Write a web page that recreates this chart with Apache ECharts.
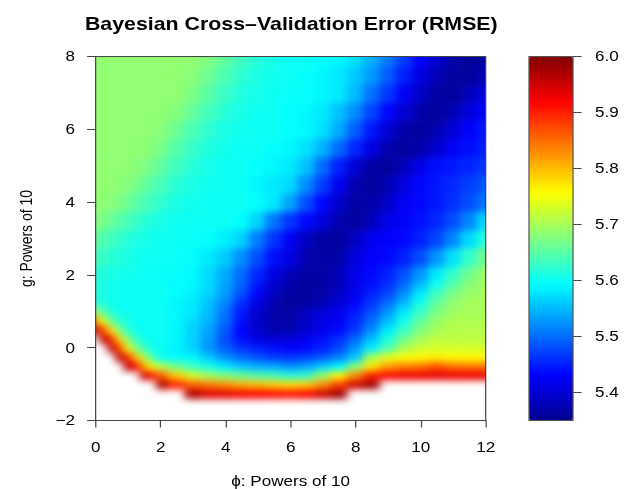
<!DOCTYPE html>
<html>
<head>
<meta charset="utf-8">
<title>Bayesian Cross-Validation Error (RMSE)</title>
<script src="https://cdn.jsdelivr.net/npm/echarts@6/dist/echarts.min.js"></script>
<style>
html, body { margin: 0; padding: 0; background: #fff; overflow: hidden; }
/* the source picture is stretched sideways, so the chart is drawn narrow and widened */
#wrap { position: relative; width: 514px; height: 489px; transform: scaleX(1.22); transform-origin: 0 0; }
#clip { position: absolute; left: 78.4px; top: 56.5px; width: 319.7px; height: 364px; overflow: hidden; }
#heat { position: absolute; left: -30px; top: -30px; width: 379.7px; height: 424px; filter: blur(3.5px); }
#main { position: absolute; left: 0; top: 0; width: 514px; height: 489px; }
</style>
</head>
<body>
<div id="wrap">
  <div id="clip"><div id="heat"></div></div>
  <div id="main"></div>
</div>
<script>
// grid of phi (x) and g (y), powers of 10; finer in phi near the left edge where the band bends
var phiVals = [0, 0.25, 0.5, 0.75, 1, 1.25, 1.5, 1.75, 2, 2.5, 3, 3.5, 4, 4.5, 5, 5.5, 6, 6.5, 7, 7.5, 8, 8.5, 9, 9.5, 10, 10.5, 11, 11.5, 12];
var gVals = [-1.25, -1, -0.75, -0.5, -0.25, 0, 0.25, 0.5, 0.75, 1, 1.25, 1.5, 1.75, 2, 2.5, 3, 3.5, 4, 4.5, 5, 5.5, 6, 6.5, 7, 7.5, 8];

// RMSE, one row per g value (null = above 6.0, left white)
var rmse = [
  [null, null, null, null, null, null, null, null, null, null, 5.97, 5.94, 5.935, 5.925, 5.92, 5.915, 5.91, 5.92, 5.95, 5.98, null, null, null, null, null, null, null, null, null],
  [null, null, null, null, null, null, null, null, 5.97, 5.90, 5.86, 5.845, 5.83, 5.81, 5.80, 5.79, 5.78, 5.79, 5.83, 5.88, 5.95, 5.98, null, null, null, null, null, null, null],
  [null, null, null, null, null, null, 5.96, 5.91, 5.86, 5.79, 5.73, 5.70, 5.68, 5.665, 5.65, 5.64, 5.62, 5.63, 5.69, 5.76, 5.83, 5.90, 5.92, 5.93, 5.93, 5.935, 5.93, 5.93, 5.93],
  [null, null, null, null, 5.97, 5.92, 5.82, 5.76, 5.71, 5.67, 5.635, 5.61, 5.58, 5.56, 5.545, 5.54, 5.525, 5.535, 5.565, 5.59, 5.68, 5.77, 5.82, 5.84, 5.845, 5.87, 5.85, 5.845, 5.845],
  [null, null, null, 5.97, 5.90, 5.80, 5.72, 5.65, 5.60, 5.595, 5.59, 5.56, 5.525, 5.50, 5.485, 5.47, 5.465, 5.475, 5.49, 5.515, 5.56, 5.70, 5.74, 5.755, 5.76, 5.765, 5.76, 5.76, 5.76],
  [null, null, 5.97, 5.88, 5.76, 5.68, 5.635, 5.61, 5.60, 5.585, 5.565, 5.525, 5.49, 5.465, 5.45, 5.44, 5.43, 5.435, 5.45, 5.475, 5.525, 5.585, 5.645, 5.70, 5.725, 5.73, 5.73, 5.73, 5.73],
  [null, 5.97, 5.90, 5.78, 5.68, 5.635, 5.605, 5.60, 5.60, 5.59, 5.565, 5.53, 5.48, 5.44, 5.41, 5.40, 5.405, 5.42, 5.44, 5.46, 5.50, 5.555, 5.61, 5.665, 5.70, 5.715, 5.715, 5.715, 5.715],
  [5.95, 5.88, 5.77, 5.68, 5.625, 5.605, 5.60, 5.60, 5.60, 5.59, 5.565, 5.535, 5.485, 5.43, 5.395, 5.375, 5.375, 5.395, 5.415, 5.435, 5.465, 5.52, 5.58, 5.63, 5.675, 5.70, 5.71, 5.71, 5.71],
  [5.83, 5.74, 5.665, 5.625, 5.61, 5.60, 5.60, 5.60, 5.60, 5.59, 5.57, 5.545, 5.50, 5.44, 5.39, 5.37, 5.37, 5.39, 5.41, 5.425, 5.455, 5.50, 5.55, 5.605, 5.655, 5.69, 5.705, 5.705, 5.705],
  [5.70, 5.65, 5.62, 5.605, 5.60, 5.60, 5.60, 5.60, 5.60, 5.59, 5.58, 5.55, 5.505, 5.445, 5.395, 5.37, 5.365, 5.385, 5.405, 5.42, 5.445, 5.48, 5.525, 5.58, 5.63, 5.67, 5.695, 5.70, 5.70],
  [5.625, 5.612, 5.605, 5.60, 5.60, 5.60, 5.60, 5.60, 5.60, 5.59, 5.58, 5.555, 5.515, 5.46, 5.41, 5.375, 5.36, 5.365, 5.375, 5.40, 5.43, 5.465, 5.50, 5.55, 5.605, 5.655, 5.685, 5.70, 5.70],
  [5.615, 5.61, 5.605, 5.60, 5.60, 5.60, 5.60, 5.60, 5.60, 5.595, 5.585, 5.565, 5.53, 5.48, 5.43, 5.385, 5.365, 5.36, 5.37, 5.39, 5.42, 5.45, 5.475, 5.52, 5.58, 5.635, 5.67, 5.69, 5.70],
  [5.615, 5.61, 5.605, 5.60, 5.60, 5.60, 5.60, 5.599, 5.598, 5.595, 5.59, 5.57, 5.535, 5.495, 5.445, 5.395, 5.37, 5.36, 5.365, 5.38, 5.415, 5.44, 5.46, 5.50, 5.55, 5.605, 5.65, 5.68, 5.695],
  [5.62, 5.615, 5.61, 5.607, 5.605, 5.602, 5.60, 5.599, 5.598, 5.595, 5.59, 5.57, 5.54, 5.50, 5.455, 5.41, 5.38, 5.365, 5.365, 5.38, 5.415, 5.435, 5.45, 5.48, 5.525, 5.58, 5.625, 5.665, 5.69],
  [5.638, 5.629, 5.62, 5.615, 5.61, 5.606, 5.603, 5.601, 5.60, 5.598, 5.595, 5.58, 5.56, 5.52, 5.48, 5.44, 5.41, 5.375, 5.365, 5.37, 5.405, 5.43, 5.435, 5.45, 5.48, 5.525, 5.575, 5.625, 5.665],
  [5.655, 5.645, 5.634, 5.626, 5.618, 5.613, 5.608, 5.605, 5.602, 5.60, 5.598, 5.595, 5.585, 5.565, 5.51, 5.465, 5.425, 5.385, 5.365, 5.36, 5.385, 5.42, 5.43, 5.435, 5.45, 5.475, 5.515, 5.57, 5.615],
  [5.678, 5.669, 5.66, 5.649, 5.638, 5.629, 5.62, 5.615, 5.61, 5.603, 5.60, 5.60, 5.60, 5.595, 5.565, 5.505, 5.465, 5.435, 5.405, 5.375, 5.36, 5.38, 5.415, 5.43, 5.44, 5.455, 5.48, 5.515, 5.57],
  [5.685, 5.683, 5.68, 5.672, 5.663, 5.652, 5.642, 5.632, 5.623, 5.611, 5.604, 5.60, 5.60, 5.60, 5.595, 5.58, 5.535, 5.48, 5.435, 5.395, 5.365, 5.37, 5.39, 5.425, 5.435, 5.445, 5.46, 5.48, 5.505],
  [5.685, 5.685, 5.685, 5.682, 5.678, 5.669, 5.66, 5.649, 5.638, 5.62, 5.61, 5.603, 5.60, 5.60, 5.59, 5.58, 5.57, 5.52, 5.47, 5.42, 5.375, 5.36, 5.375, 5.41, 5.435, 5.445, 5.455, 5.47, 5.485],
  [5.685, 5.685, 5.685, 5.685, 5.685, 5.68, 5.675, 5.665, 5.655, 5.634, 5.618, 5.608, 5.601, 5.60, 5.595, 5.59, 5.58, 5.555, 5.50, 5.45, 5.40, 5.365, 5.36, 5.38, 5.415, 5.44, 5.445, 5.455, 5.465],
  [5.685, 5.685, 5.685, 5.685, 5.685, 5.685, 5.684, 5.678, 5.67, 5.648, 5.628, 5.614, 5.606, 5.60, 5.60, 5.595, 5.59, 5.575, 5.545, 5.50, 5.455, 5.41, 5.375, 5.36, 5.37, 5.395, 5.425, 5.44, 5.45],
  [5.685, 5.685, 5.685, 5.685, 5.685, 5.685, 5.685, 5.683, 5.68, 5.663, 5.642, 5.623, 5.611, 5.604, 5.60, 5.60, 5.595, 5.59, 5.575, 5.54, 5.49, 5.445, 5.40, 5.37, 5.36, 5.375, 5.40, 5.43, 5.445],
  [5.685, 5.685, 5.685, 5.685, 5.685, 5.685, 5.685, 5.685, 5.685, 5.677, 5.657, 5.636, 5.619, 5.609, 5.602, 5.60, 5.595, 5.59, 5.58, 5.555, 5.52, 5.475, 5.435, 5.40, 5.37, 5.36, 5.375, 5.405, 5.43],
  [5.685, 5.685, 5.685, 5.685, 5.685, 5.685, 5.685, 5.685, 5.685, 5.685, 5.672, 5.65, 5.63, 5.615, 5.607, 5.601, 5.597, 5.595, 5.59, 5.58, 5.55, 5.505, 5.465, 5.425, 5.39, 5.365, 5.36, 5.38, 5.405],
  [5.685, 5.685, 5.685, 5.685, 5.685, 5.685, 5.685, 5.685, 5.685, 5.685, 5.68, 5.663, 5.642, 5.623, 5.611, 5.604, 5.60, 5.595, 5.59, 5.58, 5.56, 5.53, 5.49, 5.45, 5.41, 5.38, 5.36, 5.36, 5.375],
  [5.685, 5.685, 5.685, 5.685, 5.685, 5.685, 5.685, 5.685, 5.685, 5.685, 5.685, 5.675, 5.655, 5.634, 5.618, 5.608, 5.601, 5.60, 5.595, 5.59, 5.575, 5.545, 5.51, 5.47, 5.43, 5.40, 5.37, 5.355, 5.36]
];

var cbTicks = [5.4, 5.5, 5.6, 5.7, 5.8, 5.9, 6.0];
var zMin = 5.35, zMax = 6.0;

var jet = ['#00008F', '#0000FF', '#0080FF', '#00FFFF', '#80FF80', '#FFFF00', '#FF8000', '#FF0000', '#800000'];
var font = 'Liberation Sans, Arial, sans-serif';

var cells = [];
for (var i = 0; i < gVals.length; i++) {
    for (var j = 0; j < phiVals.length; j++) {
        if (rmse[i][j] != null) cells.push([phiVals[j], gVals[i], rmse[i][j], j, i]);
    }
}

// cell edge = half way to the neighbour; outer cells get pushed out by ext so the blur has no rim
function edges(vals, k, extLo, extHi) {
    var n = vals.length;
    var a = k > 0 ? (vals[k - 1] + vals[k]) / 2 : vals[0] - extLo;
    var b = k < n - 1 ? (vals[k] + vals[k + 1]) / 2 : vals[n - 1] + extHi;
    return [a, b];
}

function renderCell(params, api) {
    var ex = edges(phiVals, api.value(3), 1, 1);
    var ey = edges(gVals, api.value(4), 0.14, 1);
    var p0 = api.coord([ex[0], ey[1]]);
    var p1 = api.coord([ex[1], ey[0]]);
    var c = api.visual('color');
    return {
        type: 'rect',
        shape: { x: p0[0], y: p0[1], width: p1[0] - p0[0], height: p1[1] - p0[1] },
        style: { fill: c, stroke: c, lineWidth: 0.6 }
    };
}

function minus(v) {
    return v < 0 ? '\u2212' + Math.abs(v) : String(v);
}

// colour layer, sits under the plot box and is softened with a css blur
var heatChart = echarts.init(document.getElementById('heat'));
heatChart.setOption({
    animation: false,
    grid: { left: 30, top: 30, width: 319.7, height: 364, outerBoundsMode: 'none' },
    xAxis: { type: 'value', min: 0, max: 12, show: false },
    yAxis: { type: 'value', min: -2, max: 8, show: false },
    visualMap: {
        type: 'continuous', show: false, seriesIndex: 0, dimension: 2, min: zMin, max: zMax,
        inRange: { color: jet },
        outOfRange: { color: 'rgba(255,255,255,0)' }
    },
    series: [{
        type: 'custom',
        name: 'RMSE',
        renderItem: renderCell,
        encode: { x: 0, y: 1 },
        data: cells
    }]
});

// frame: title, axes, box and colour key
var myChart = echarts.init(document.getElementById('main'), null, { renderer: 'svg' });
myChart.setOption({
    animation: false,
    backgroundColor: 'transparent',
    textStyle: { fontFamily: font },
    title: {
        text: 'Bayesian Cross\u2013Validation Error (RMSE)',
        left: 69.6,
        top: 15,
        padding: 0,
        textStyle: { fontFamily: font, fontSize: 17.5, fontWeight: 'bold', color: '#000' }
    },
    grid: [
        { left: 78.4, top: 56.5, width: 319.7, height: 364, outerBoundsMode: 'none', show: true, borderColor: '#444', borderWidth: 1, backgroundColor: 'transparent', z: 3 },
        { left: 433.6, top: 56.5, width: 36.1, height: 364, outerBoundsMode: 'none', show: true, borderColor: '#555', borderWidth: 1, backgroundColor: 'transparent', z: 6 }
    ],
    xAxis: [{
        type: 'value', gridIndex: 0, min: 0, max: 12, interval: 2,
        name: '\u03d5: Powers of 10', nameLocation: 'middle', nameGap: 53.5,
        nameTextStyle: { fontFamily: font, fontSize: 14, color: '#000' },
        axisLine: { show: false, onZero: false },
        axisTick: { length: 7, lineStyle: { color: '#444' } },
        axisLabel: { fontFamily: font, fontSize: 14, color: '#000', margin: 20 },
        splitLine: { show: false }
    }, {
        type: 'value', gridIndex: 1, min: 0, max: 1, show: false
    }],
    yAxis: [{
        type: 'value', gridIndex: 0, min: -2, max: 8, interval: 2,
        name: 'g: Powers of 10', nameLocation: 'middle', nameGap: 50, nameRotate: 90,
        nameTextStyle: { fontFamily: font, fontSize: 14, color: '#000' },
        axisLine: { show: false, onZero: false },
        axisTick: { length: 7, lineStyle: { color: '#444' } },
        axisLabel: { fontFamily: font, fontSize: 14, color: '#000', margin: 17, formatter: minus },
        splitLine: { show: false }
    }, {
        type: 'value', gridIndex: 1, position: 'right', min: zMin, max: zMax,
        axisLine: { show: false, onZero: false },
        axisTick: { length: 7, customValues: cbTicks, lineStyle: { color: '#444' } },
        axisLabel: { fontFamily: font, fontSize: 14, color: '#000', margin: 18, customValues: cbTicks,
            formatter: function (v) { return v.toFixed(1); } },
        splitLine: { show: false }
    }],
    visualMap: {
        type: 'continuous', min: zMin, max: zMax,
        calculable: false, hoverLink: false, orient: 'vertical',
        left: 433.6, top: 56.5, itemWidth: 36.1, itemHeight: 364, padding: 0,
        text: null, showLabel: false,
        inRange: { color: jet }
    }
});
</script>
</body>
</html>
